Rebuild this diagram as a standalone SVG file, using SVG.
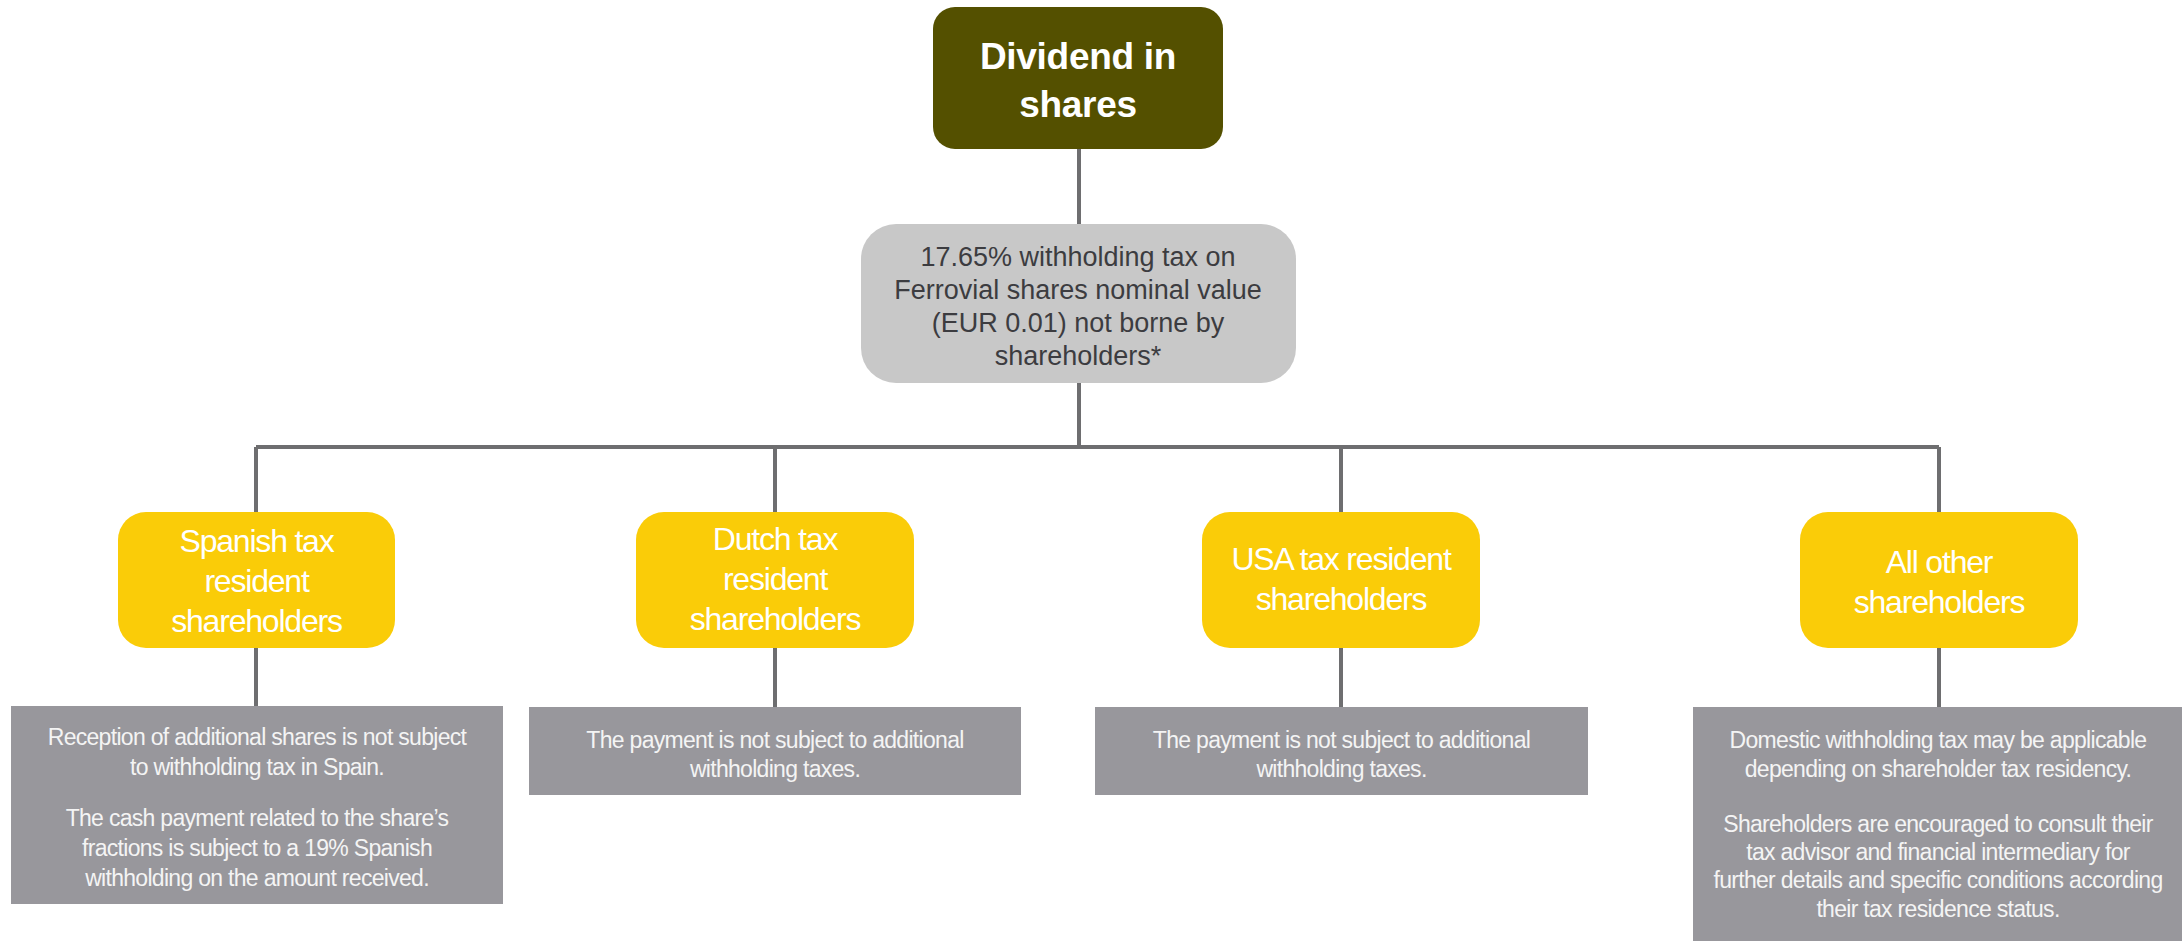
<svg xmlns="http://www.w3.org/2000/svg" width="2182" height="941" viewBox="0 0 2182 941">
<style>
.conn{stroke:#6e6e70;stroke-width:4;fill:none}
.top{fill:#545000}
.tax{fill:#c8c8c8}
.yel{fill:#facc08}
.desc{fill:#98979c}
.tt{font-family:"Liberation Sans",Arial,sans-serif;font-weight:bold;font-size:37px;fill:#ffffff;text-anchor:middle;letter-spacing:-0.3px}
.tx{font-family:"Liberation Sans",Arial,sans-serif;font-size:27px;fill:#3c3c40;text-anchor:middle}
.yt{font-family:"Liberation Sans",Arial,sans-serif;font-size:32px;fill:#ffffff;text-anchor:middle;letter-spacing:-1.2px}
.dt{font-family:"Liberation Sans",Arial,sans-serif;font-size:23px;fill:#f4f4f4;text-anchor:middle;letter-spacing:-0.7px}
</style>
<rect width="2182" height="941" fill="#ffffff"/>
<g id="connectors">
<path class="conn" d="M1079 149V224"/>
<path class="conn" d="M1079 383V447"/>
<path class="conn" d="M256 447H1939"/>
<path class="conn" d="M256 447V512M775 447V512M1341 447V512M1939 447V512"/>
<path class="conn" d="M256 648V707M775 648V707M1341 648V707M1939 648V707"/>
</g>
<g id="dividend">
<rect class="top" x="933" y="7" width="290" height="142" rx="22"/>
<text class="tt" x="1078" y="69">Dividend in</text>
<text class="tt" x="1078" y="117">shares</text>
</g>
<g id="withholding">
<rect class="tax" x="861" y="224" width="435" height="159" rx="35"/>
<text class="tx" x="1078" y="266">17.65% withholding tax on</text>
<text class="tx" x="1078" y="299">Ferrovial shares nominal value</text>
<text class="tx" x="1078" y="332">(EUR 0.01) not borne by</text>
<text class="tx" x="1078" y="365">shareholders*</text>
</g>
<g id="spanish">
<rect class="yel" x="118" y="512" width="277" height="136" rx="28"/>
<text class="yt" x="256.5" y="552">Spanish tax</text>
<text class="yt" x="256.5" y="592">resident</text>
<text class="yt" x="256.5" y="632">shareholders</text>
</g>
<g id="dutch">
<rect class="yel" x="636" y="512" width="278" height="136" rx="28"/>
<text class="yt" x="775" y="550">Dutch tax</text>
<text class="yt" x="775" y="590">resident</text>
<text class="yt" x="775" y="630">shareholders</text>
</g>
<g id="usa">
<rect class="yel" x="1202" y="512" width="278" height="136" rx="28"/>
<text class="yt" x="1341" y="570">USA tax resident</text>
<text class="yt" x="1341" y="610">shareholders</text>
</g>
<g id="other">
<rect class="yel" x="1800" y="512" width="278" height="136" rx="28"/>
<text class="yt" x="1939" y="573">All other</text>
<text class="yt" x="1939" y="613">shareholders</text>
</g>
<g id="spanish-desc">
<rect class="desc" x="11" y="706" width="492" height="198"/>
<text class="dt" x="257" y="745">Reception of additional shares is not subject</text>
<text class="dt" x="257" y="775">to withholding tax in Spain.</text>
<text class="dt" x="257" y="826">The cash payment related to the share’s</text>
<text class="dt" x="257" y="856">fractions is subject to a 19% Spanish</text>
<text class="dt" x="257" y="886">withholding on the amount received.</text>
</g>
<g id="dutch-desc">
<rect class="desc" x="529" y="707" width="492" height="88"/>
<text class="dt" x="775" y="748">The payment is not subject to additional</text>
<text class="dt" x="775" y="777">withholding taxes.</text>
</g>
<g id="usa-desc">
<rect class="desc" x="1095" y="707" width="493" height="88"/>
<text class="dt" x="1341.5" y="748">The payment is not subject to additional</text>
<text class="dt" x="1341.5" y="777">withholding taxes.</text>
</g>
<g id="other-desc">
<rect class="desc" x="1693" y="707" width="489" height="234"/>
<text class="dt" x="1938" y="748">Domestic withholding tax may be applicable</text>
<text class="dt" x="1938" y="777">depending on shareholder tax residency.</text>
<text class="dt" x="1938" y="832">Shareholders are encouraged to consult their</text>
<text class="dt" x="1938" y="860">tax advisor and financial intermediary for</text>
<text class="dt" x="1938" y="888">further details and specific conditions according</text>
<text class="dt" x="1938" y="917">their tax residence status.</text>
</g>
</svg>
